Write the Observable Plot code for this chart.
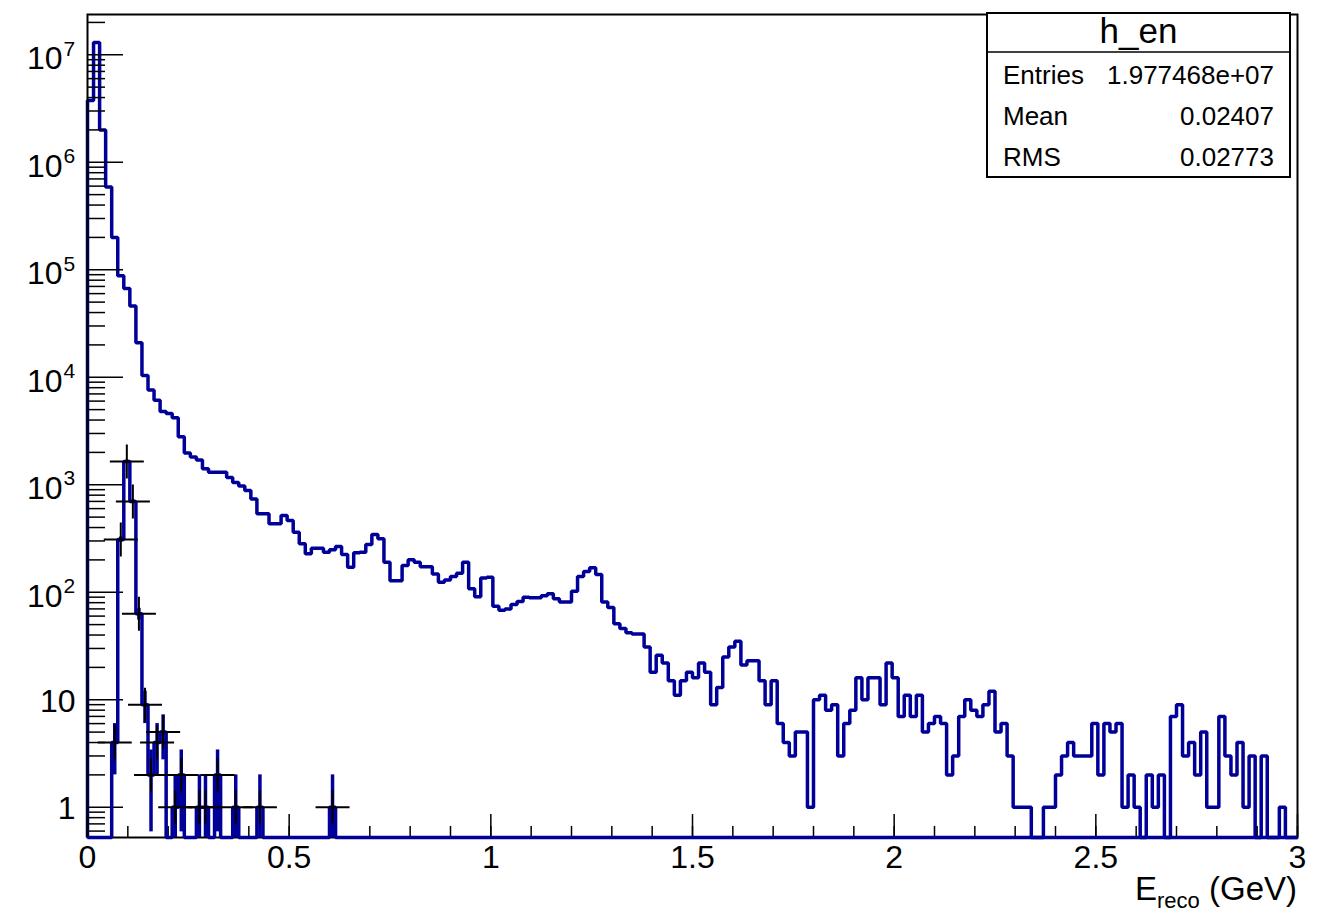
<!DOCTYPE html>
<html><head><meta charset="utf-8">
<script src="https://cdn.jsdelivr.net/npm/d3@7"></script>
<script src="https://cdn.jsdelivr.net/npm/@observablehq/plot@0.6"></script>
<style>
html,body{margin:0;padding:0;background:#fff;}
#chart{position:relative;width:1320px;height:913px;}
</style></head><body><div id="chart"></div>
<script>
// ---- data ----
const binWidth = 0.015;
const xMin = 0, xMax = 3;
const yMin = 0.523, yMax = 2.37e7;

// main histogram h_en, 200 bins of 0.015 GeV
const mainCounts = [
 3.75e6, 1.3e7, 2.0e6, 5.9e5, 2.0e5, 8.8e4, 6.7e4, 4.6e4, 2.1e4, 1.04e4,
 7600, 6100, 4800, 4600, 4200, 2800, 1970, 1810, 1700, 1410,
 1310, 1310, 1310, 1170, 1050, 972, 883, 736, 536, 536,
 433, 433, 517, 464, 361, 282, 228, 257, 257, 236,
 248, 266, 224, 171, 233, 236, 278, 344, 314, 190,
 128, 128, 177, 201, 190, 173, 173, 148, 124, 130,
 140, 150, 190, 108, 91, 136, 138, 74, 68, 70,
 77, 82, 90, 89, 89, 93, 97, 87, 81, 81,
 102, 140, 156, 169, 146, 81, 72, 51, 46, 42,
 41, 41, 31, 18, 26, 22, 15, 11, 15, 18,
 16, 22, 18, 9, 13, 25, 31, 35, 21, 23,
 23, 15, 9, 15, 6, 4, 3, 5, 5, 1,
 10, 11, 8, 9, 3, 6, 8, 16, 10, 16,
 16, 9, 22, 16, 7, 11, 7, 11, 5, 6,
 7, 6, 2, 3, 7, 10, 8, 7, 9, 12,
 5, 6, 3, 1, 1, 1, 0, 0, 1, 1,
 2, 3, 4, 3, 3, 3, 6, 2, 6, 5,
 6, 1, 2, 1, 0, 2, 1, 2, 0, 7,
 9, 3, 4, 2, 5, 1, 1, 7, 3, 2,
 4, 1, 3, 0, 3, 0, 0, 1, 0, 0
];

// second histogram (non-zero bins only), with error bars and + markers
const subBins   = [4, 5, 6, 7, 8, 9, 10, 11, 12, 14, 15, 18, 19, 21, 24, 28, 40];
const subCounts = [4, 309, 1650, 698, 63, 9, 2, 4, 5, 1, 2, 1, 1, 2, 1, 1, 1];
const subErrors = [2, 17.6, 40.6, 26.4, 7.9, 3, 1.41, 2, 2.24, 1, 1.41, 1, 1, 1.41, 1, 1, 1];

// axis ticks / labels
const xLabelTicks = [0, 0.5, 1, 1.5, 2, 2.5, 3];
const xMinorTicks = d3.range(0, 31).map(i => i / 10);
const yMajorTicks = [1, 10, 100, 1e3, 1e4, 1e5, 1e6, 1e7];
const yLabelBase  = ["1", "10", "10", "10", "10", "10", "10", "10"];
const yLabelExp   = ["", "", "2", "3", "4", "5", "6", "7"];

const statsTitle = "h_en";
const statsNames  = ["Entries", "Mean", "RMS"];
const statsValues = ["1.977468e+07", "0.02407", "0.02773"];
const axisTitleMain = "E", axisTitleSub = "reco", axisTitleUnit = " (GeV)";

// ---- derived drawing tables ----
const nBins = mainCounts.length;
const clampY = v => Math.max(v, yMin);
function stepPoints(counts) {
  const pts = [{x: xMin, y: yMin}];
  counts.forEach((c, i) => pts.push({x: xMin + i * binWidth, y: clampY(c)}));
  pts.push({x: xMax, y: clampY(counts[counts.length - 1])});
  pts.push({x: xMax, y: yMin});
  return pts;
}
const mainPts = stepPoints(mainCounts);
const subFull = new Array(nBins).fill(0);
subBins.forEach((b, k) => subFull[b] = subCounts[k]);
const subPts = stepPoints(subFull);
const subMarks = subBins.map((b, k) => ({
  x: xMin + (b + 0.5) * binWidth, y: subCounts[k],
  lo: clampY(subCounts[k] - subErrors[k]), hi: subCounts[k] + subErrors[k]
}));
const yMinorTicks = [];
for (let e = -1; e <= 7; e++) for (let m = 2; m <= 9; m++) {
  const v = m * Math.pow(10, e);
  if (v >= yMin && v <= yMax) yMinorTicks.push(v);
}
const yLabels = yMajorTicks.map((v, i) => ({v, base: yLabelBase[i], exp: yLabelExp[i]}));
const yPlain = yLabels.filter(d => d.exp === "");
const yPow = yLabels.filter(d => d.exp !== "");

const W = 1320, H = 913, ML = 87, MR = 23, MT = 14, MB = 76;
const FW = W - ML - MR, FH = H - MT - MB;
const blue = "#000099";
const font = "Liberation Sans, Arial, Helvetica, sans-serif";
const labelSize = 32;

const plusSymbol = {
  draw(context, size) {
    const h = Math.sqrt(size / Math.PI);
    context.moveTo(-h, 0); context.lineTo(h, 0);
    context.moveTo(0, -h); context.lineTo(0, h);
  }
};

const chart = Plot.plot({
  width: W, height: H,
  marginLeft: ML, marginRight: MR, marginTop: MT, marginBottom: MB,
  style: {fontFamily: font, background: "white"},
  x: {domain: [xMin, xMax], axis: null},
  y: {type: "log", domain: [yMin, yMax], axis: null},
  marks: [
    Plot.line(mainPts, {x: "x", y: "y", curve: "step-after", stroke: blue, strokeWidth: 3.5,
      strokeLinejoin: "miter", strokeLinecap: "butt"}),
    Plot.frame({stroke: "black", strokeWidth: 2}),
    Plot.tickX(xMinorTicks, {x: d => d, stroke: "black", strokeWidth: 1.5, insetTop: FH - 11}),
    Plot.tickX(xLabelTicks, {x: d => d, stroke: "black", strokeWidth: 1.5, insetTop: FH - 23}),
    Plot.tickY(yMinorTicks, {y: d => d, stroke: "black", strokeWidth: 1.5, insetRight: FW - 18}),
    Plot.tickY(yMajorTicks, {y: d => d, stroke: "black", strokeWidth: 1.5, insetRight: FW - 36}),
    Plot.line(subPts, {x: "x", y: "y", curve: "step-after", stroke: blue, strokeWidth: 3.5,
      strokeLinejoin: "miter", strokeLinecap: "butt"}),
    Plot.ruleX(subMarks, {x: "x", y1: "lo", y2: "hi", stroke: blue, strokeWidth: 3.5}),
    Plot.dot(subMarks, {x: "x", y: "y", r: 17, symbol: plusSymbol, stroke: "black", fill: "none", strokeWidth: 2}),
    Plot.text(xLabelTicks, {x: d => d, text: d => String(d), frameAnchor: "bottom", lineAnchor: "top",
      dy: 8, fontSize: labelSize, fill: "black"}),
    Plot.text(yPlain, {y: "v", text: "base", frameAnchor: "left", dx: -12,
      textAnchor: "end", fontSize: labelSize, fill: "black", dy: 2}),
    Plot.text(yPow, {y: "v", text: "base", frameAnchor: "left", dx: -25,
      textAnchor: "end", fontSize: labelSize, fill: "black", dy: 4}),
    Plot.text(yPow, {y: "v", text: "exp", frameAnchor: "left", dx: -24,
      textAnchor: "start", fontSize: 21, fill: "black", dy: -6})
  ]
});
document.getElementById("chart").appendChild(chart);

// stats box and axis title
const svg = d3.select(chart);
const bx = 987, by = 13, bw = 303, bh = 164;
const g = svg.append("g").attr("font-family", font).attr("text-anchor", "start");
g.append("rect").attr("x", bx).attr("y", by).attr("width", bw).attr("height", bh)
  .attr("fill", "white").attr("stroke", "black").attr("stroke-width", 2);
g.append("line").attr("x1", bx).attr("x2", bx + bw).attr("y1", 52).attr("y2", 52)
  .attr("stroke", "black").attr("stroke-width", 1.5);
g.append("text").attr("x", bx + bw / 2).attr("y", 43).attr("text-anchor", "middle")
  .attr("font-size", 35).text(statsTitle);
statsNames.forEach((n, i) => {
  const yy = 84 + i * 41;
  g.append("text").attr("x", 1003).attr("y", yy).attr("text-anchor", "start")
    .attr("font-size", 26).text(n);
  g.append("text").attr("x", 1274).attr("y", yy).attr("text-anchor", "end")
    .attr("font-size", 26).text(statsValues[i]);
});
const t = svg.append("text").attr("x", 1297).attr("y", 900).attr("text-anchor", "end")
  .attr("font-family", font).attr("font-size", 33);
t.append("tspan").text(axisTitleMain);
t.append("tspan").attr("font-size", 22).attr("dy", 8).text(axisTitleSub);
t.append("tspan").attr("dy", -8).text(axisTitleUnit);
</script></body></html>
